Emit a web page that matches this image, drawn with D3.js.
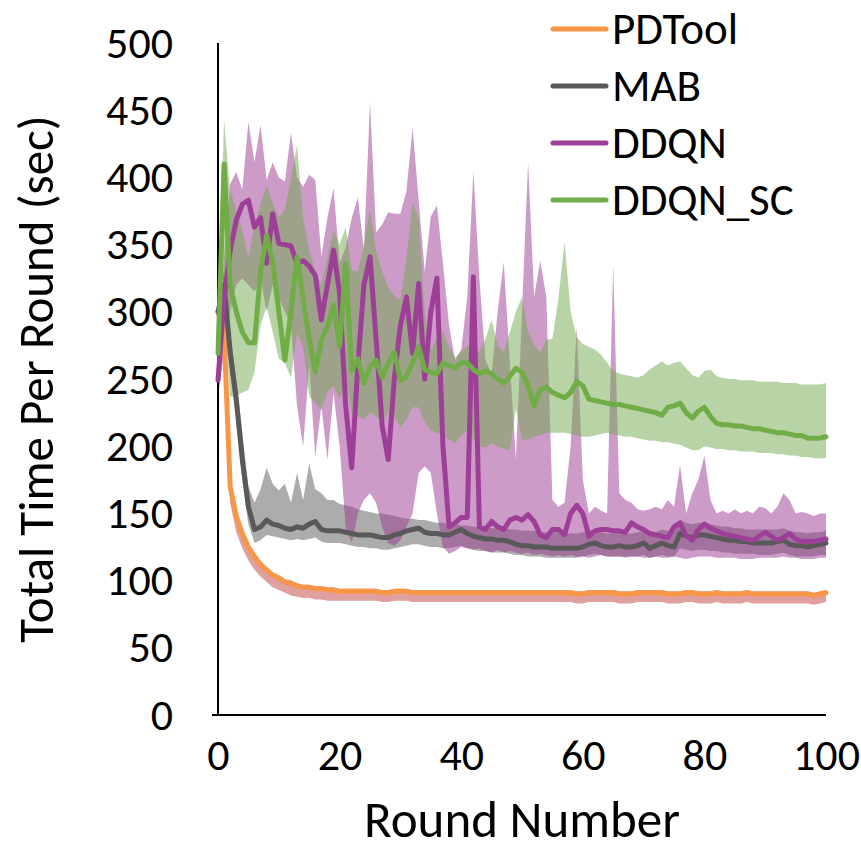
<!DOCTYPE html>
<html>
<head>
<meta charset="utf-8">
<script src="https://cdn.jsdelivr.net/npm/d3@7"></script>
<style>
  html, body { margin: 0; padding: 0; background: #fff; }
  svg { display: block; }
  text { font-family: Carlito, Calibri, Lato, sans-serif; fill: #000; }
</style>
</head>
<body>
<svg id="chart" width="861" height="850"></svg>
<script>
// ---- data ----
const rounds = d3.range(0, 101);
const xTicks = [0, 20, 40, 60, 80, 100];
const yTicks = [0, 50, 100, 150, 200, 250, 300, 350, 400, 450, 500];
const seriesNames = ["PDTool", "MAB", "DDQN", "DDQN_SC"];

const pdtoolMean = [300,285,170,148,135,125,118,112,108,104,102,99,98,96,95,95,94,94,93,93,
  92,92,92,92,92,92,92,91,91,92,92,92,91,91,91,91,91,91,91,91,
  91,91,91,91,91,91,91,91,91,91,91,91,91,91,91,91,91,91,91,90,
  90,91,91,91,91,91,90,90,90,91,91,91,91,91,90,90,90,91,91,90,
  90,90,91,90,90,90,90,91,90,90,90,90,90,90,90,90,90,90,89,90,91];
const pdtoolUpper = [302,287,172,150,137,127,120,114,110,106,104,101,100,98,97,97,96,96,95,95,
  94,94,94,94,94,94,94,93,93,94,94,94,93,93,93,93,93,93,93,93,
  93,93,93,93,93,93,93,93,93,93,93,93,93,93,93,93,93,93,93,92,
  92,93,93,93,93,93,92,92,92,93,93,93,93,93,92,92,92,93,93,92,
  92,92,93,92,92,92,92,93,92,92,92,92,92,92,92,92,92,92,91,92,93];
const pdtoolLower = [290,275,158,136,124,115,108,103,99,95,93,91,89,88,87,87,86,86,85,85,
  85,85,85,85,85,85,85,84,84,85,85,85,84,84,84,84,84,84,84,84,
  84,84,84,84,84,84,84,84,84,84,84,84,84,84,84,84,84,84,84,83,
  83,84,84,84,84,84,83,83,83,84,84,84,84,84,83,83,83,84,84,83,
  83,83,84,83,83,83,83,84,83,83,83,83,83,83,83,83,83,83,82,83,84];

const mabMean = [300,320,270,235,190,155,138,140,145,142,141,139,138,140,139,142,144,138,137,137,
  137,136,135,134,134,134,133,132,132,134,135,137,138,139,136,135,135,134,134,136,
  138,135,133,132,131,131,130,130,129,127,126,126,125,125,125,124,124,124,124,124,
  125,127,128,126,125,125,126,125,125,126,128,124,126,128,126,125,135,133,132,134,
  134,133,132,131,130,130,129,129,128,128,128,128,129,130,127,126,126,125,126,127,128];
const mabUpper = [310,330,285,250,210,170,158,168,184,172,167,172,158,180,160,187,168,165,160,160,
  157,156,155,153,152,151,150,150,149,148,147,146,146,145,145,144,143,143,142,142,
  141,141,140,140,140,139,139,139,138,138,137,137,137,136,136,136,136,135,135,135,
  136,137,138,136,135,135,136,135,135,136,137,135,136,138,137,136,145,143,142,143,
  143,142,141,140,140,139,139,138,138,138,138,138,138,139,137,136,136,135,136,136,137];
const mabLower = [290,310,255,220,175,142,128,130,134,133,132,131,130,131,130,131,132,129,128,128,
  128,127,126,125,125,124,124,123,123,124,125,126,127,127,126,125,125,124,124,125,
  126,124,123,122,122,121,121,121,120,119,119,118,118,118,117,117,117,117,117,117,
  118,119,120,119,118,118,118,118,118,118,119,117,118,119,118,118,124,123,122,123,
  123,122,122,121,121,120,120,120,120,119,119,119,120,121,119,118,118,118,118,119,119];

const ddqnMean = [249,310,345,368,380,383,363,370,336,373,351,350,349,336,338,334,327,294,320,346,
  314,230,184,260,320,341,280,215,190,250,290,311,269,321,250,300,325,200,140,143,
  147,147,326,140,138,144,140,138,145,147,145,149,144,134,132,138,138,134,150,156,
  150,133,137,138,138,137,137,136,143,140,138,135,134,133,132,140,143,133,130,138,
  142,139,137,135,134,133,132,131,130,133,136,133,130,132,135,131,129,129,129,130,131];
const ddqnUpper = [262,340,395,404,391,441,411,439,398,411,400,397,433,400,393,402,398,341,370,392,
  336,348,370,385,346,456,359,365,374,373,373,390,437,383,330,371,379,336,290,264,
  272,311,405,324,264,254,300,337,262,190,300,411,311,338,311,160,155,158,200,289,
  175,150,155,152,150,335,165,160,158,153,152,153,155,153,160,155,186,150,165,175,
  193,160,150,152,150,153,150,152,150,155,154,150,155,165,160,150,151,150,148,150,150];
const ddqnLower = [236,270,300,320,325,320,315,325,300,320,310,300,290,230,200,260,192,230,190,240,
  200,140,128,150,160,165,158,140,128,126,130,140,150,180,185,180,150,125,120,122,
  125,124,123,124,122,121,123,121,122,121,120,121,119,120,119,118,119,118,119,118,
  118,117,118,119,118,118,118,117,118,118,117,117,118,117,117,118,117,116,117,118,
  118,118,117,117,117,117,116,116,116,117,117,117,117,118,117,117,116,116,116,117,117];

const scMean = [269,410,320,300,285,277,277,330,357,336,300,264,300,341,310,280,255,279,289,305,
  274,336,256,265,247,259,264,251,262,270,249,252,262,274,257,255,254,262,260,258,
  262,262,257,254,256,254,250,247,252,258,255,245,230,242,244,240,238,236,240,248,
  245,235,234,233,232,231,231,230,229,228,227,226,225,223,229,230,232,225,221,226,
  229,222,217,216,216,215,215,214,213,213,212,211,210,210,209,208,208,206,206,206,207];
const scUpper = [290,443,390,376,360,340,363,380,394,381,370,376,400,424,370,346,330,320,340,361,
  350,363,331,330,350,376,345,330,318,312,309,340,381,370,300,272,280,285,274,266,
  270,275,272,270,280,294,275,270,285,300,311,285,275,270,279,280,310,352,300,281,
  276,274,272,268,262,256,254,253,252,251,253,257,260,263,260,262,263,258,253,251,
  256,257,252,251,250,250,249,249,249,248,248,248,248,247,247,247,246,246,246,246,247];
const scLower = [250,300,237,237,240,242,255,290,304,285,265,262,251,284,274,237,232,227,240,245,
  235,250,225,222,220,225,222,218,225,222,214,220,229,229,218,212,210,208,205,202,
  208,212,205,200,199,202,200,198,197,228,205,205,207,208,210,210,210,210,209,208,
  207,207,208,209,210,209,208,207,207,206,205,204,204,203,203,202,201,199,197,197,
  200,199,198,198,197,197,196,196,196,195,195,195,194,194,193,193,192,192,191,191,191];

const lineColors = ["#F79646", "#595959", "#9E3F97", "#70AD47"];
const bandColors = ["#C34141", "#595959", "#9B3791", "#71A94D"];

// ---- chart ----
const FONT = "Carlito, Calibri, Lato, sans-serif";
const svg = d3.select("#chart");
const x = d3.scaleLinear().domain([0, 100]).range([218, 826]);
const y = d3.scaleLinear().domain([0, 500]).range([715, 43]);

const series = [
  { name: seriesNames[0], mean: pdtoolMean, up: pdtoolUpper, lo: pdtoolLower },
  { name: seriesNames[1], mean: mabMean, up: mabUpper, lo: mabLower },
  { name: seriesNames[2], mean: ddqnMean, up: ddqnUpper, lo: ddqnLower },
  { name: seriesNames[3], mean: scMean, up: scUpper, lo: scLower }
];

const area = (s) => d3.area()
  .x((d, i) => x(rounds[i]))
  .y0((d, i) => y(s.lo[i]))
  .y1((d, i) => y(s.up[i]))(rounds);
const line = (s) => d3.line()
  .x((d, i) => x(rounds[i]))
  .y((d, i) => y(s.mean[i]))(rounds);

const gBands = svg.append("g");
series.forEach((s, k) => {
  gBands.append("path").attr("d", area(s))
    .attr("fill", bandColors[k]).attr("fill-opacity", 0.5).attr("stroke", "none");
});

// axes
const yAxis = d3.axisLeft(y).tickValues(yTicks).tickSize(0).tickPadding(45);
const gy = svg.append("g").attr("transform", "translate(218,0)").call(yAxis);
gy.select(".domain").remove();
gy.selectAll("text").style("font-size", "44px").style("font-family", FONT).attr("fill", "#000");

const xAxis = d3.axisBottom(x).tickValues(xTicks).tickSize(0).tickPadding(24);
const gx = svg.append("g").attr("transform", "translate(0,715)").call(xAxis);
gx.select(".domain").remove();
gx.selectAll("text").style("font-size", "44px").style("font-family", FONT).attr("fill", "#000");

svg.append("line").attr("x1", 218).attr("x2", 218).attr("y1", 43).attr("y2", 716)
  .attr("stroke", "#000").attr("stroke-width", 2);
svg.append("line").attr("x1", 212).attr("x2", 826).attr("y1", 715).attr("y2", 715)
  .attr("stroke", "#000").attr("stroke-width", 2);

const gLines = svg.append("g");
series.forEach((s, k) => {
  gLines.append("path").attr("d", line(s))
    .attr("fill", "none").attr("stroke", lineColors[k]).attr("stroke-width", 5)
    .attr("stroke-linejoin", "round").attr("stroke-linecap", "round");
});

// axis titles
svg.append("text").attr("x", 522).attr("y", 837).attr("text-anchor", "middle")
  .style("font-size", "51px").text("Round Number");
svg.append("text").attr("transform", "translate(53,379) rotate(-90)").attr("text-anchor", "middle")
  .style("font-size", "49px").text("Total Time Per Round (sec)");

// legend
const leg = svg.append("g");
series.forEach((s, k) => {
  const ly = 29 + k * 57;
  leg.append("line").attr("x1", 553).attr("x2", 606).attr("y1", ly).attr("y2", ly)
    .attr("stroke", lineColors[k]).attr("stroke-width", 5).attr("stroke-linecap", "round");
  leg.append("text").attr("x", 612).attr("y", ly + 15).style("font-size", "45px").text(s.name);
});
</script>
</body>
</html>
